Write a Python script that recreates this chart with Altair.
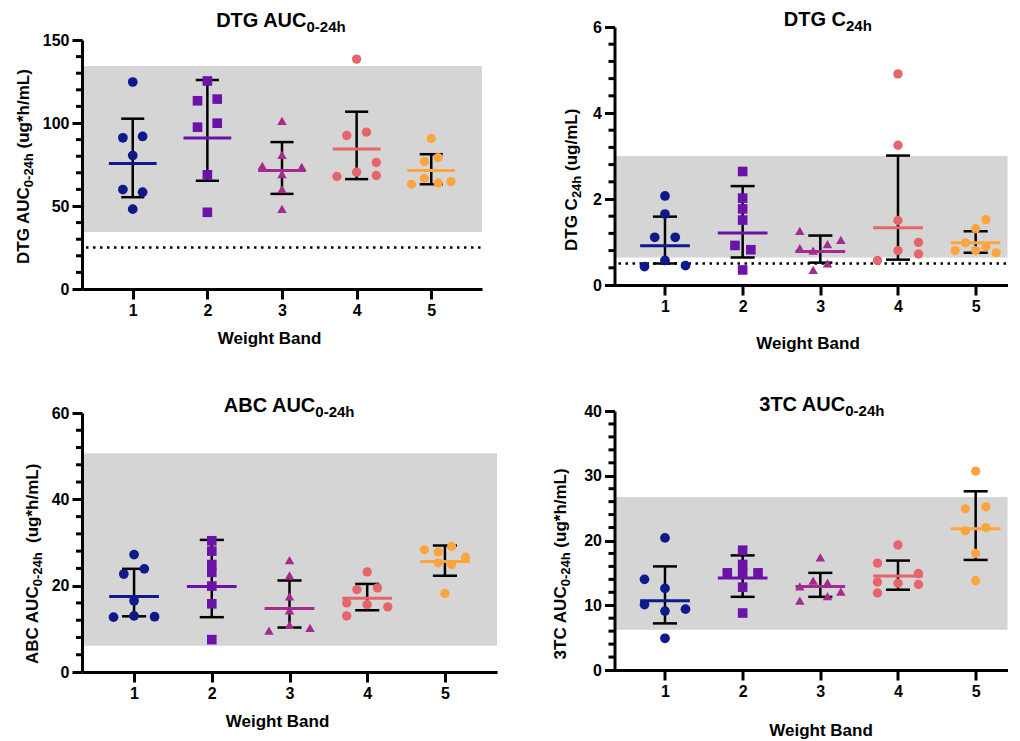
import altair as alt
import pandas as pd

FONT = "Liberation Sans"
groups = [1, 2, 3, 4, 5]
colors = ["#0E1A8A", "#6C12A8", "#A52A8F", "#E5656A", "#FDA53D"]
shapes = ["circle", "square", "triangle-up", "circle", "circle"]
sizes = [95, 85, 125, 95, 95]

# ---------------- data ----------------
# DTG AUC0-24h
auc_vals = [[124.7, 91.1, 91.9, 80.4, 59.9, 58.3, 48.1],
            [125.3, 113.4, 114.4, 97.5, 99.9, 68.8, 46.2],
            [101.3, 80.8, 74.2, 73.6, 69.2, 60.1, 48.3],
            [138.5, 92.5, 94.5, 76.2, 70.4, 67.8, 68.4],
            [90.7, 76.8, 79.2, 66.6, 63.1, 63.9, 64.7]]
auc_jit = [[0, -1, 1, 0, -1, 1, 0],
           [0, -1, 1, -1, 1, 0, 0],
           [0, 0, -2, 2, 0, 0, 0],
           [0, -1, 1, 2, 0, -2, 2],
           [0, -0.7, 0.7, -0.7, -2, 0.7, 2]]
auc_gm = [75.6, 90.9, 71.4, 84.3, 71.4]
auc_hi = [102.6, 125.9, 88.5, 106.8, 81.2]
auc_lo = [55.3, 65.2, 57.3, 66.2, 63.1]

# DTG C24h
c24_vals = [[2.07, 1.65, 1.11, 1.11, 0.57, 0.43, 0.45],
            [2.64, 2.02, 1.77, 1.51, 0.92, 0.82, 0.35],
            [1.26, 0.86, 0.80, 0.95, 1.05, 0.50, 0.35],
            [4.91, 3.25, 1.50, 0.99, 0.72, 0.80, 0.57],
            [1.52, 1.31, 0.98, 0.89, 0.80, 0.80, 0.75]]
c24_jit = [[0, 0, -1, 1, 0, -2, 2],
           [0, 0, 0, 0, -0.75, 0.8, 0],
           [-2, -2, -0.7, 0.7, 2, 0.7, -0.7],
           [0, 0, 0, 2, 2, 0, -2],
           [1, 0, -1, 1, -2, 0, 2]]
c24_gm = [0.91, 1.21, 0.78, 1.33, 0.98]
c24_hi = [1.59, 2.30, 1.15, 3.01, 1.25]
c24_lo = [0.50, 0.64, 0.52, 0.59, 0.75]

# ABC AUC0-24h
abc_vals = [[27.2, 22.7, 23.9, 16.5, 12.7, 13.0, 12.8],
            [30.4, 28.0, 24.9, 23.1, 19.9, 15.8, 7.5],
            [25.9, 22.4, 17.5, 14.3, 10.9, 9.6, 10.2],
            [23.2, 19.1, 19.5, 16.0, 15.6, 15.1, 13.0],
            [29.1, 28.3, 27.8, 26.6, 25.3, 24.9, 18.2]]
abc_jit = [[0, -1, 1, 0, -2, 0, 2],
           [0, 0, 0, 0, 0, 0, 0],
           [0, 0, 0, 0, 0, -2, 2],
           [0, -1, 1, -2, 0, 2, -2],
           [0.65, -2, -0.65, 2, -0.65, 0.65, 0]]
abc_gm = [17.5, 19.8, 14.7, 17.1, 25.6]
abc_hi = [23.9, 30.6, 21.2, 20.4, 29.3]
abc_lo = [12.9, 12.7, 10.3, 14.3, 22.3]

# 3TC AUC0-24h
tc_vals = [[20.4, 14.0, 12.6, 10.1, 9.1, 9.4, 4.9],
           [18.5, 16.3, 15.0, 15.0, 15.0, 12.8, 8.8],
           [17.4, 13.8, 13.5, 12.9, 12.1, 11.4, 10.7],
           [19.3, 16.5, 14.9, 13.6, 13.4, 13.2, 11.9],
           [30.7, 25.2, 24.9, 22.0, 21.5, 18.0, 13.8]]
tc_jit = [[0, -2, 0, -2, 0, 2, 0],
          [0, 0, 0, -1.5, 1.5, 0, 0],
          [0, -0.7, 0.7, -2, 2, 0.7, -2],
          [0, -2, 2, -2, 0, 2, -2],
          [0, 1, -1, 1, -1, 0, 0]]
tc_gm = [10.7, 14.2, 12.9, 14.5, 21.8]
tc_hi = [16.0, 17.7, 15.0, 16.9, 27.6]
tc_lo = [7.2, 11.3, 11.3, 12.4, 17.0]

# Arial / Liberation Sans Bold advance widths (em) for text layout
W = {"D": .722, "T": .611, "G": .778, " ": .278, "A": .722, "U": .722, "C": .722,
     "B": .722, "3": .556, "0": .556, "-": .333, "2": .556, "4": .556, "h": .611,
     "(": .333, "u": .611, "g": .611, "*": .389, "/": .278, "m": .889, "L": .611, ")": .333}


def tw(s, size):
    return sum(W.get(c, .6) for c in s) * size


one = pd.DataFrame({"a": [0]})
cscale = alt.Scale(domain=groups, range=colors)


def txt(t, x, y, size, align, angle=0, dx=0, dy=0):
    return alt.Chart(one).mark_text(
        text=t, font=FONT, fontSize=size, fontWeight="bold", color="black",
        align=align, baseline="alphabetic", angle=angle, dx=dx, dy=dy
    ).encode(x=alt.value(x), y=alt.value(y))


def panel(vals, jit, gm, lo, hi, band, ymax, major, minor, width, height, top, xdom,
          title, ytitle, tpos, ypos, xtitle_pos, dotted=None):
    # view is `height` tall; the y axis runs from `top` down to the bottom
    rows = []
    for gi, g in enumerate(groups):
        for v, j in zip(vals[gi], jit[gi]):
            rows.append({"group": g, "value": v, "jit": j})
    pts = pd.DataFrame(rows)
    summ = pd.DataFrame({"group": groups, "gm": gm, "lo": lo, "hi": hi})
    xs = alt.Scale(domain=xdom, nice=False, zero=False)
    ys = alt.Scale(domain=[0, ymax], range=[height, top], nice=False, zero=True)
    nmaj = int(round(ymax / major))
    majors = [round(i * major, 4) for i in range(nmaj + 1)]
    nmin = int(round(ymax / minor))
    minors = [round(i * minor, 4) for i in range(nmin + 1)
              if abs(i * minor / major - round(i * minor / major)) > 1e-6]
    yaxis = alt.Axis(values=majors, format="d", title=None, zindex=1,
                     tickSize=10, labelPadding=3, labelOverlap=False)
    xaxis = alt.Axis(values=groups, format="d", title="Weight Band", zindex=1,
                     tickSize=10, labelPadding=3, titleX=xtitle_pos[0],
                     titleY=xtitle_pos[1], titleBaseline="alphabetic",
                     titleFontSize=17, titleFontWeight="bold", titleFont=FONT,
                     titleColor="black", labelOverlap=False)

    bandc = alt.Chart(pd.DataFrame({"lo": [band[0]], "hi": [band[1]]})).mark_rect(
        color="#D5D5D5").encode(
        x=alt.value(0), x2=alt.value(width),
        y=alt.Y("lo:Q", scale=ys, axis=yaxis), y2="hi:Q")
    layers = [bandc]
    # minor y ticks
    layers.append(alt.Chart(pd.DataFrame({"t": minors})).mark_rule(
        color="black", strokeWidth=3).encode(
        x=alt.value(-6), x2=alt.value(0), y=alt.Y("t:Q", scale=ys)))
    if dotted is not None:
        layers.append(alt.Chart(pd.DataFrame({"v": [dotted]})).mark_rule(
            color="black", strokeWidth=2.5, strokeDash=[2.5, 4.5]).encode(
            x=alt.value(4), x2=alt.value(width), y=alt.Y("v:Q", scale=ys)))
    base = alt.Chart(summ)
    whisk = base.mark_rule(color="black", strokeWidth=2.5).encode(
        x=alt.X("group:Q", scale=xs, axis=xaxis), y=alt.Y("lo:Q", scale=ys), y2="hi:Q")
    caps_hi = base.transform_calculate(a="datum.group-0.155", b="datum.group+0.155").mark_rule(
        color="black", strokeWidth=2.5).encode(
        x=alt.X("a:Q", scale=xs), x2="b:Q", y=alt.Y("hi:Q", scale=ys))
    caps_lo = base.transform_calculate(a="datum.group-0.155", b="datum.group+0.155").mark_rule(
        color="black", strokeWidth=2.5).encode(
        x=alt.X("a:Q", scale=xs), x2="b:Q", y=alt.Y("lo:Q", scale=ys))
    means = base.transform_calculate(a="datum.group-0.32", b="datum.group+0.32").mark_rule(
        strokeWidth=3).encode(
        x=alt.X("a:Q", scale=xs), x2="b:Q", y=alt.Y("gm:Q", scale=ys),
        color=alt.Color("group:N", scale=cscale, legend=None))
    points = alt.Chart(pts).transform_calculate(
        xpos="datum.group + datum.jit*0.132").mark_point(filled=True, opacity=1).encode(
        x=alt.X("xpos:Q", scale=xs),
        y=alt.Y("value:Q", scale=ys),
        color=alt.Color("group:N", scale=cscale, legend=None),
        shape=alt.Shape("group:N", scale=alt.Scale(domain=groups, range=shapes), legend=None),
        size=alt.Size("group:N", scale=alt.Scale(domain=groups, range=sizes), legend=None))
    layers += [whisk, caps_hi, caps_lo, means, points]

    # chart title with subscript
    tmain, tsub = title
    tx, ty = tpos
    layers.append(txt(tmain, tx, ty, 20, "right"))
    layers.append(txt(tsub, tx, ty, 15, "left", dy=5))
    # rotated y-axis title with subscript
    ymain, ysub, yrest = ytitle
    ax, ybottom = ypos
    y0 = ybottom - tw(ymain, 17)
    layers.append(txt(ymain, ax, y0, 17, "right", angle=270))
    layers.append(txt(ysub, ax, y0, 13, "left", angle=270, dy=4))
    layers.append(txt(yrest.strip(), ax, y0, 17, "left", angle=270,
                      dx=tw(ysub, 13) + tw(yrest[:len(yrest) - len(yrest.lstrip())], 17)))
    return alt.layer(*layers).properties(width=width, height=height)


p1 = panel(auc_vals, auc_jit, auc_gm, auc_lo, auc_hi, [34.4, 134.3], 150, 50, 10,
           400, 262, 13, [0.32, 5.68], ("DTG AUC", "0-24h"),
           ("DTG AUC", "0-24h", " (ug*h/mL)"), (224.5, 0), (-53, 237.6),
           (187, 54.6), dotted=25)
p2 = panel(c24_vals, c24_jit, c24_gm, c24_lo, c24_hi, [0.64, 3.0], 6, 2, 0.4,
           393, 258, 0, [0.35, 5.41], ("DTG C", "24h"),
           ("DTG C", "24h", " (ug/mL)"), (231.5, -0.7), (-38, 224),
           (193, 63.4), dotted=0.5)
p3 = panel(abc_vals, abc_jit, abc_gm, abc_lo, abc_hi, [6.1, 50.7], 60, 20, 4,
           415, 261, 2, [0.33, 5.67], ("ABC AUC", "0-24h"),
           ("ABC AUC", "0-24h", "  (ug*h/mL)"), (233.3, 1), (-44, 253.7),
           (195, 54.3))
p4 = panel(tc_vals, tc_jit, tc_gm, tc_lo, tc_hi, [6.2, 26.7], 40, 10, 2,
           393, 259, 0, [0.35, 5.41], ("3TC AUC", "0-24h"),
           ("3TC AUC", "0-24h", " (ug*h/mL)"), (230.7, 0), (-49, 249),
           (206, 65.5))

chart = alt.concat(p1, p2, p3, p4, columns=2, align="each",
                   spacing={"row": 43, "column": 54.5}).properties(
    padding={"left": 7, "top": 2, "right": 0, "bottom": 0}
).configure_view(stroke=None).configure_axis(
    domainColor="black", domainWidth=3, tickColor="black", tickWidth=3,
    labelFont=FONT, labelFontSize=16, labelFontWeight="bold", labelColor="black",
    grid=False
)

chart.save("out.html", embed_options={"renderer": "svg", "actions": False})
